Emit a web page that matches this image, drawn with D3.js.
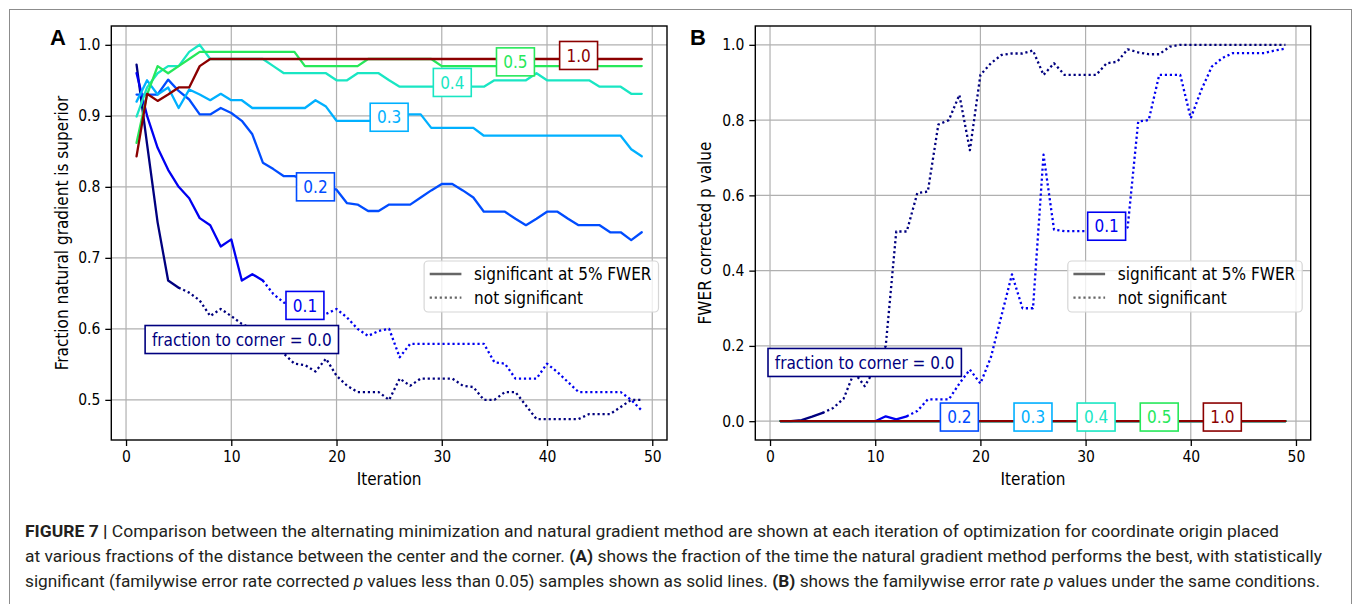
<!DOCTYPE html>
<html>
<head>
<meta charset="utf-8">
<script src="https://cdn.jsdelivr.net/npm/d3@7"></script>
<style>
  body { margin: 0; background: #fff; }
  svg { display: block; }
</style>
</head>
<body>
<svg id="fig" width="1355" height="604"></svg>
<script>
// ---- data ----
const iterations = [1, 2, 3, 4, 5, 6, 7, 8, 9, 10, 11, 12, 13, 14, 15, 16, 17, 18, 19, 20,
  21, 22, 23, 24, 25, 26, 27, 28, 29, 30, 31, 32, 33, 34, 35, 36, 37, 38, 39, 40,
  41, 42, 43, 44, 45, 46, 47, 48, 49];
const fractions = ['0.0', '0.1', '0.2', '0.3', '0.4', '0.5', '1.0'];

// panel A: fraction of runs where natural gradient is superior
const superior00 = [0.972, 0.86, 0.75, 0.668, 0.658, 0.651, 0.64, 0.618, 0.628, 0.618,
  0.607, 0.60, 0.59, 0.578, 0.565, 0.551, 0.549, 0.54, 0.558, 0.534,
  0.52, 0.511, 0.511, 0.511, 0.50, 0.53, 0.52, 0.53, 0.53, 0.53,
  0.53, 0.52, 0.518, 0.50, 0.50, 0.511, 0.511, 0.492, 0.473, 0.473,
  0.473, 0.473, 0.473, 0.48, 0.48, 0.48, 0.49, 0.50, 0.50];
const superior01 = [0.96, 0.90, 0.855, 0.824, 0.80, 0.784, 0.756, 0.746, 0.716, 0.726,
  0.668, 0.677, 0.668, 0.649, 0.637, 0.635, 0.633, 0.627, 0.621, 0.628,
  0.616, 0.60, 0.59, 0.597, 0.60, 0.56, 0.579, 0.579, 0.579, 0.579,
  0.579, 0.579, 0.579, 0.579, 0.553, 0.551, 0.53, 0.53, 0.53, 0.551,
  0.539, 0.525, 0.511, 0.511, 0.511, 0.511, 0.511, 0.50, 0.485];
const superior02 = [0.93, 0.93, 0.93, 0.951, 0.935, 0.923, 0.902, 0.902, 0.911, 0.904,
  0.893, 0.874, 0.834, 0.825, 0.815, 0.815, 0.81, 0.80, 0.80, 0.796,
  0.777, 0.775, 0.766, 0.766, 0.775, 0.775, 0.775, 0.785, 0.795, 0.804,
  0.804, 0.795, 0.785, 0.765, 0.765, 0.765, 0.755, 0.746, 0.755, 0.765,
  0.765, 0.755, 0.746, 0.746, 0.746, 0.736, 0.736, 0.725, 0.736];
const superior03 = [0.92, 0.95, 0.93, 0.94, 0.911, 0.937, 0.93, 0.922, 0.931, 0.922,
  0.922, 0.911, 0.911, 0.911, 0.911, 0.911, 0.911, 0.922, 0.913, 0.893,
  0.893, 0.893, 0.893, 0.893, 0.898, 0.902, 0.902, 0.902, 0.883, 0.883,
  0.883, 0.883, 0.883, 0.872, 0.872, 0.872, 0.872, 0.872, 0.872, 0.872,
  0.872, 0.872, 0.872, 0.872, 0.872, 0.872, 0.872, 0.853, 0.843];
const superior04 = [0.899, 0.94, 0.96, 0.97, 0.97, 0.99, 1.0, 0.98, 0.98, 0.98,
  0.98, 0.98, 0.98, 0.97, 0.96, 0.96, 0.96, 0.96, 0.96, 0.95,
  0.95, 0.96, 0.96, 0.96, 0.95, 0.941, 0.941, 0.941, 0.941, 0.941,
  0.941, 0.941, 0.941, 0.941, 0.95, 0.95, 0.95, 0.95, 0.96, 0.95,
  0.95, 0.95, 0.95, 0.95, 0.941, 0.941, 0.941, 0.931, 0.931];
const superior05 = [0.862, 0.93, 0.97, 0.96, 0.97, 0.98, 0.99, 0.99, 0.99, 0.99,
  0.99, 0.99, 0.99, 0.99, 0.99, 0.99, 0.97, 0.97, 0.97, 0.97,
  0.97, 0.97, 0.98, 0.98, 0.98, 0.98, 0.98, 0.98, 0.98, 0.97,
  0.97, 0.97, 0.97, 0.97, 0.97, 0.97, 0.97, 0.97, 0.97, 0.97,
  0.97, 0.97, 0.97, 0.97, 0.97, 0.97, 0.97, 0.97, 0.97];
const superior10 = [0.843, 0.931, 0.921, 0.93, 0.94, 0.94, 0.97, 0.98, 0.98, 0.98,
  0.98, 0.98, 0.98, 0.98, 0.98, 0.98, 0.98, 0.98, 0.98, 0.98,
  0.98, 0.98, 0.98, 0.98, 0.98, 0.98, 0.98, 0.98, 0.98, 0.98,
  0.98, 0.98, 0.98, 0.98, 0.98, 0.98, 0.98, 0.98, 0.98, 0.98,
  0.98, 0.98, 0.98, 0.98, 0.98, 0.98, 0.98, 0.98, 0.98];

// panel B: FWER corrected p values
const pvalue00 = [0, 0, 0.003, 0.012, 0.022, 0.035, 0.06, 0.13, 0.093, 0.14,
  0.2, 0.504, 0.504, 0.606, 0.61, 0.788, 0.80, 0.867, 0.72, 0.92,
  0.951, 0.973, 0.977, 0.977, 0.985, 0.92, 0.951, 0.92, 0.92, 0.92,
  0.92, 0.951, 0.955, 0.988, 0.98, 0.975, 0.975, 0.995, 1.0, 1.0,
  1.0, 1.0, 1.0, 1.0, 1.0, 1.0, 1.0, 1.0, 1.0];
const pvalue01 = [0, 0, 0, 0, 0, 0, 0, 0, 0, 0,
  0.013, 0.005, 0.013, 0.027, 0.058, 0.058, 0.058, 0.10, 0.137, 0.10,
  0.17, 0.28, 0.39, 0.30, 0.30, 0.708, 0.509, 0.505, 0.505, 0.505,
  0.505, 0.505, 0.505, 0.515, 0.796, 0.80, 0.92, 0.92, 0.92, 0.805,
  0.88, 0.942, 0.965, 0.978, 0.978, 0.978, 0.978, 0.985, 0.99];
// fractions 0.2 .. 1.0 stay at zero in panel B
const pvalueRest = [0, 0, 0, 0, 0, 0, 0, 0, 0, 0,
  0, 0, 0, 0, 0, 0, 0, 0, 0, 0,
  0, 0, 0, 0, 0, 0, 0, 0, 0, 0,
  0, 0, 0, 0, 0, 0, 0, 0, 0, 0,
  0, 0, 0, 0, 0, 0, 0, 0, 0];

// last iteration that is still significant (solid), per fraction
const lastSignificant = [5, 13, 49, 49, 49, 49, 49];

// label anchors (iteration, value) per fraction
const labelIterA = [11, 17, 18, 25, 31, 37, 43];
const labelValA = [0.585, 0.633, 0.80, 0.898, 0.947, 0.976, 0.985];
const labelIterB = [9, 32, 18, 25, 31, 37, 43];
const labelValB = [0.156, 0.518, 0.011, 0.011, 0.011, 0.011, 0.011];

const xTicks = [0, 10, 20, 30, 40, 50];
const yTicksA = [0.5, 0.6, 0.7, 0.8, 0.9, 1.0];
const yTicksB = [0.0, 0.2, 0.4, 0.6, 0.8, 1.0];

// ---- styling ----
const colors = ['#00007f', '#0000f1', '#004cff', '#00b0ff', '#19e6c3', '#26e85a', '#8b0000'];
const mplFont = '"DejaVu Sans Condensed", "DejaVu Sans", sans-serif';

const svg = d3.select('#fig');

// outer frame of the figure
svg.append('rect')
  .attr('x', 9.5).attr('y', 9.5)
  .attr('width', 1342).attr('height', 700)
  .attr('fill', 'none').attr('stroke', '#8c8c8c').attr('stroke-width', 1);

function drawPanel(cfg) {
  const top = 26, bottom = 440;
  const x = d3.scaleLinear().domain([-1.4, 51.4]).range([cfg.left, cfg.right]);
  const y = d3.scaleLinear().domain(cfg.yDomain).range([bottom, top]);
  const g = svg.append('g');

  // grid
  g.append('g').selectAll('line').data(xTicks).join('line')
    .attr('x1', d => x(d)).attr('x2', d => x(d))
    .attr('y1', top).attr('y2', bottom)
    .attr('stroke', '#b0b0b0').attr('stroke-width', 1.2);
  g.append('g').selectAll('line').data(cfg.yTicks).join('line')
    .attr('x1', cfg.left).attr('x2', cfg.right)
    .attr('y1', d => y(d)).attr('y2', d => y(d))
    .attr('stroke', '#b0b0b0').attr('stroke-width', 1.2);

  // axes
  const xa = g.append('g').attr('transform', `translate(0,${bottom})`)
    .call(d3.axisBottom(x).tickValues(xTicks).tickFormat(d3.format('d')).tickSize(6).tickPadding(5));
  const ya = g.append('g').attr('transform', `translate(${cfg.left},0)`)
    .call(d3.axisLeft(y).tickValues(cfg.yTicks).tickFormat(d3.format('.1f')).tickSize(6).tickPadding(5));
  [xa, ya].forEach(a => {
    a.select('.domain').remove();
    a.attr('font-family', mplFont).attr('font-size', 15.5);
    a.selectAll('line').attr('stroke', '#000').attr('stroke-width', 1.3);
    a.selectAll('text').attr('fill', '#000');
  });

  // data lines
  const line = d3.line().x(d => x(d[0])).y(d => y(d[1])).curve(d3.curveLinear);
  const lines = g.append('g').attr('fill', 'none').attr('stroke-width', 2.3)
    .attr('stroke-linejoin', 'round');
  cfg.series.forEach((vals, k) => {
    const pts = iterations.map((it, i) => [it, vals[i]]);
    const cut = lastSignificant[k];
    lines.append('path').datum(pts.slice(0, cut))
      .attr('stroke', colors[k]).attr('stroke-linecap', 'round').attr('d', line);
    if (cut < pts.length) {
      lines.append('path').datum(pts.slice(cut - 1))
        .attr('stroke', colors[k]).attr('stroke-dasharray', '2.2,2.8').attr('d', line);
    }
  });

  // spines
  g.append('rect')
    .attr('x', cfg.left).attr('y', top)
    .attr('width', cfg.right - cfg.left).attr('height', bottom - top)
    .attr('fill', 'none').attr('stroke', '#000').attr('stroke-width', 1.4);

  // legend
  const lg = g.append('g');
  const lgBox = lg.append('rect')
    .attr('y', 261).attr('height', 51).attr('rx', 4)
    .attr('fill', '#fff').attr('fill-opacity', 0.8)
    .attr('stroke', '#d6d6d6').attr('stroke-width', 1.2);
  const rows = [['significant at 5% FWER', null], ['not significant', '2.2,2.8']];
  let maxW = 0;
  const rowG = lg.append('g');
  rows.forEach((r, i) => {
    const yy = 274 + i * 23.7;
    rowG.append('line').attr('x1', 5.6).attr('x2', 37.3).attr('y1', yy).attr('y2', yy)
      .attr('stroke', '#666').attr('stroke-width', 2.3)
      .attr('stroke-dasharray', r[1]);
    const t = rowG.append('text').attr('x', 50).attr('y', yy).attr('dy', '0.35em')
      .attr('font-family', mplFont).attr('font-size', 17).attr('fill', '#000').text(r[0]);
    maxW = Math.max(maxW, t.node().getComputedTextLength());
  });
  const boxW = 50 + maxW + 7;
  const boxX = cfg.right - 8.5 - boxW;
  lgBox.attr('x', boxX).attr('width', boxW);
  rowG.attr('transform', `translate(${boxX},0)`);

  // curve labels
  cfg.labelIter.forEach((it, k) => {
    const txt = k === 0 ? 'fraction to corner = 0.0' : fractions[k];
    const lb = g.append('g').attr('transform', `translate(${x(it)},${y(cfg.labelVal[k])})`);
    const r = lb.append('rect').attr('fill', '#fff').attr('stroke', colors[k]).attr('stroke-width', 1.6);
    const t = lb.append('text').attr('text-anchor', 'middle').attr('dy', '0.36em')
      .attr('font-family', mplFont).attr('font-size', 17).attr('fill', colors[k]).text(txt);
    const w = t.node().getComputedTextLength() + 13.6;
    r.attr('x', -w / 2).attr('y', -14).attr('width', w).attr('height', 28);
  });

  // axis titles
  g.append('text').attr('x', (cfg.left + cfg.right) / 2).attr('y', 485)
    .attr('text-anchor', 'middle').attr('font-family', mplFont).attr('font-size', 17)
    .text('Iteration');
  g.append('text').attr('transform', `translate(${cfg.yLabelX},${(top + bottom) / 2}) rotate(-90)`)
    .attr('text-anchor', 'middle').attr('font-family', mplFont).attr('font-size', 17)
    .text(cfg.yLabel);

  // panel letter
  g.append('text').attr('x', cfg.letterX).attr('y', 45)
    .attr('font-family', '"Liberation Sans", Arial, sans-serif').attr('font-weight', 'bold')
    .attr('font-size', 22).text(cfg.letter);
}

drawPanel({
  left: 111.3, right: 667, yDomain: [0.4435, 1.0265], yTicks: yTicksA,
  series: [superior00, superior01, superior02, superior03, superior04, superior05, superior10],
  labelIter: labelIterA, labelVal: labelValA,
  yLabel: 'Fraction natural gradient is superior', yLabelX: 68,
  letter: 'A', letterX: 50
});

drawPanel({
  left: 755.3, right: 1310.7, yDomain: [-0.05, 1.05], yTicks: yTicksB,
  series: [pvalue00, pvalue01, pvalueRest, pvalueRest, pvalueRest, pvalueRest, pvalueRest],
  labelIter: labelIterB, labelVal: labelValB,
  yLabel: 'FWER corrected p value', yLabelX: 711,
  letter: 'B', letterX: 690
});

// caption
const captionLines = [
  { y: 537, len: 1254, parts: [
    ['FIGURE 7 | ', 'b'],
    ['Comparison between the alternating minimization and natural gradient method are shown at each iteration of optimization for coordinate origin placed', '']
  ]},
  { y: 562, len: 1297, parts: [
    ['at various fractions of the distance between the center and the corner. ', ''],
    ['(A)', 'b'],
    [' shows the fraction of the time the natural gradient method performs the best, with statistically', '']
  ]},
  { y: 587, len: 1295, parts: [
    ['significant (familywise error rate corrected ', ''],
    ['p', 'i'],
    [' values less than 0.05) samples shown as solid lines. ', ''],
    ['(B)', 'b'],
    [' shows the familywise error rate ', ''],
    ['p', 'i'],
    [' values under the same conditions.', '']
  ]}
];
const cap = svg.append('g').attr('font-family', 'Roboto, "Liberation Sans", sans-serif')
  .attr('font-size', 17).attr('fill', '#231f20');
captionLines.forEach(l => {
  const t = cap.append('text').attr('x', 25).attr('y', l.y)
    .attr('textLength', l.len).attr('lengthAdjust', 'spacingAndGlyphs')
    .attr('xml:space', 'preserve');
  l.parts.forEach(p => {
    t.append('tspan')
      .attr('font-weight', p[1] === 'b' ? 'bold' : null)
      .attr('font-style', p[1] === 'i' ? 'italic' : null)
      .text(p[0]);
  });
});
</script>
</body>
</html>
